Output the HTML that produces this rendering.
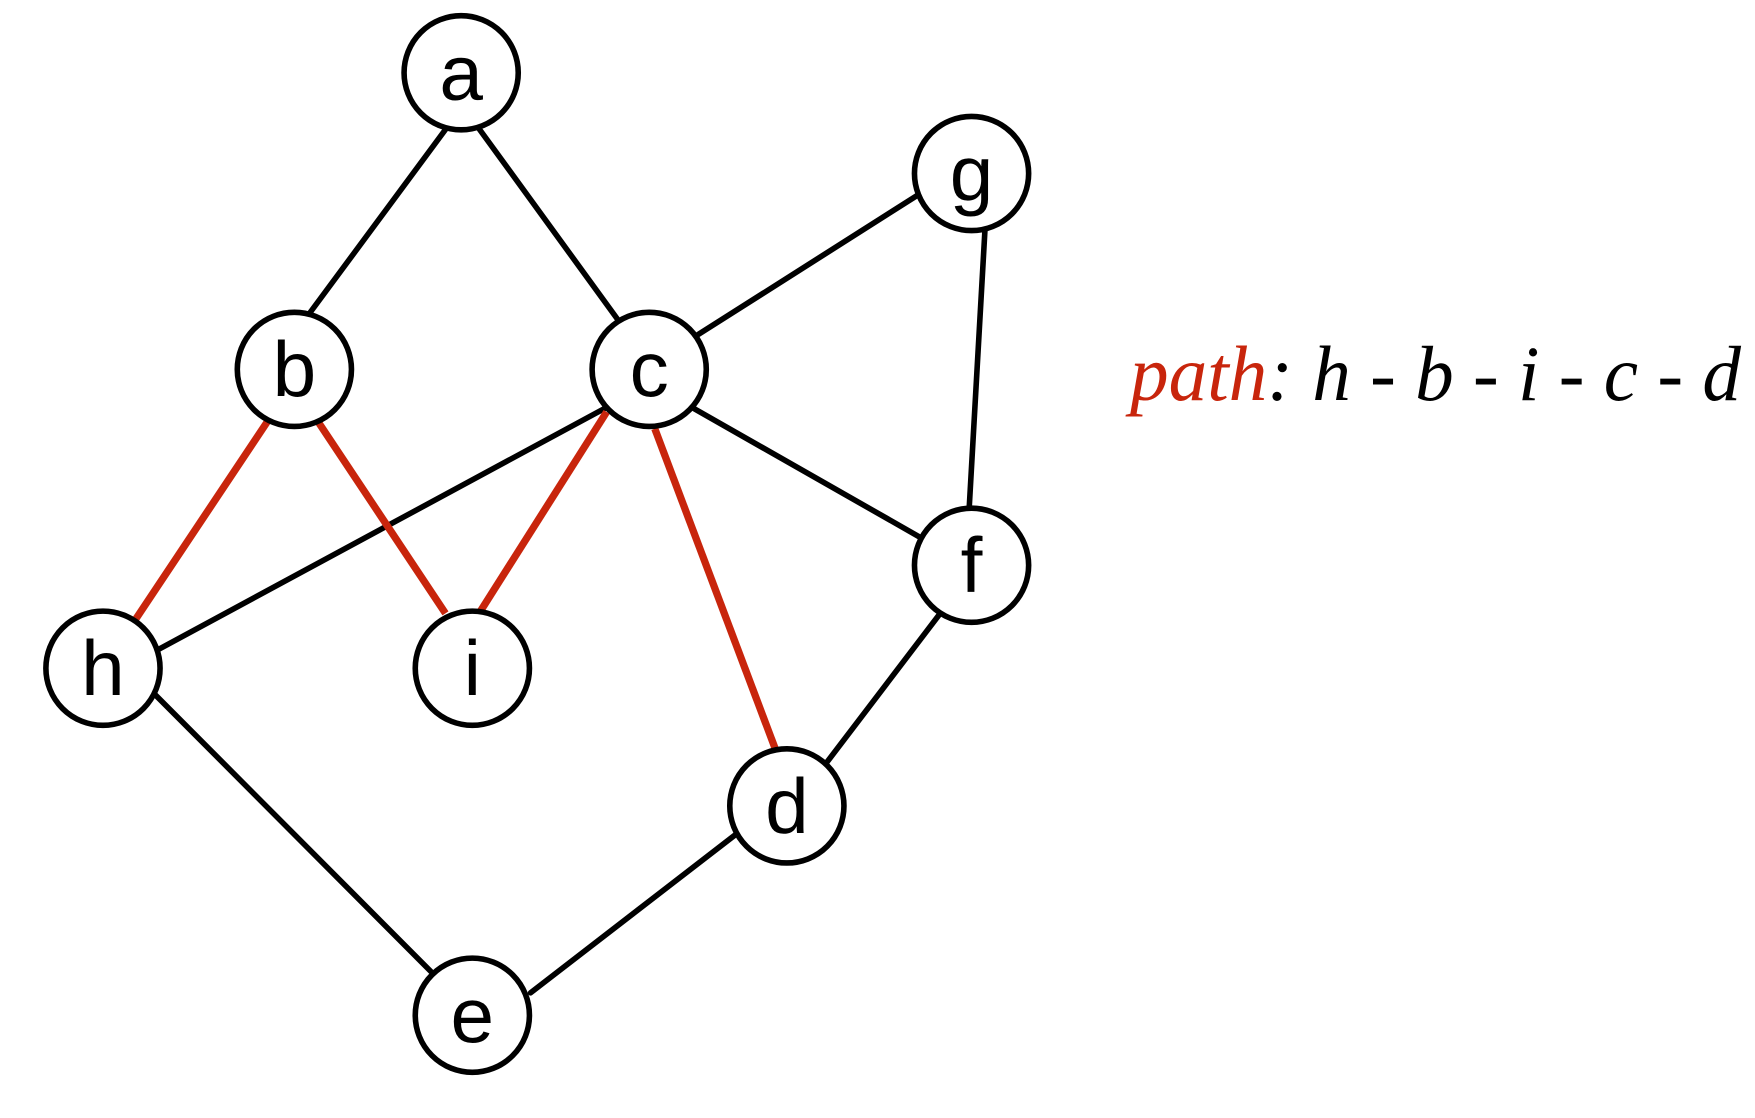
<!DOCTYPE html>
<html><head><meta charset="utf-8"><style>html,body{margin:0;padding:0;background:#fff;}svg{display:block}</style></head>
<body>
<svg width="1755" height="1118" viewBox="0 0 1755 1118" xmlns="http://www.w3.org/2000/svg">
<g transform="scale(1.1193)">
<g stroke="#000" stroke-width="5" stroke-linecap="round">
<line x1="400" y1="113" x2="275" y2="282"/>
<line x1="428" y1="115" x2="553" y2="287"/>
<line x1="622" y1="300" x2="822" y2="173"/>
<line x1="620" y1="365" x2="822" y2="480"/>
<line x1="540" y1="365" x2="142" y2="580"/>
<line x1="880" y1="205" x2="866" y2="452"/>
<line x1="840" y1="548" x2="738" y2="682"/>
<line x1="658" y1="745" x2="474" y2="887"/>
<line x1="138" y1="620" x2="385" y2="868"/>
</g>
<g stroke="#c8250c" stroke-width="6.5">
<line x1="240" y1="375" x2="120" y2="555"/>
<line x1="285" y1="378" x2="398" y2="548"/>
<line x1="542" y1="368" x2="428" y2="548"/>
<line x1="585" y1="383" x2="693" y2="670"/>
</g>
<g fill="#fff" stroke="#000" stroke-width="5">
<circle cx="412" cy="65" r="51"/>
<circle cx="868" cy="155" r="51"/>
<circle cx="263" cy="330" r="51"/>
<circle cx="580" cy="330" r="51"/>
<circle cx="92" cy="597" r="51"/>
<circle cx="422" cy="597" r="51"/>
<circle cx="868" cy="505" r="51"/>
<circle cx="703" cy="720" r="51"/>
<circle cx="422" cy="907" r="51"/>
</g>
<g font-family="Liberation Sans, sans-serif" font-size="70" text-anchor="middle" fill="#000">
<text x="412" y="89">a</text>
<text x="868" y="179">g</text>
<text x="263" y="354">b</text>
<text x="580" y="354">c</text>
<text x="92" y="621">h</text>
<text x="422" y="621">i</text>
<text x="868" y="529">f</text>
<text x="703" y="744">d</text>
<text x="422" y="931">e</text>
</g>
</g>
<text x="1130" y="400" font-family="Liberation Serif, serif" font-style="italic" font-size="78" textLength="611" lengthAdjust="spacingAndGlyphs"><tspan fill="#c8250c">path</tspan><tspan fill="#000">: h - b - i - c - d</tspan></text>
</svg>
</body></html>
